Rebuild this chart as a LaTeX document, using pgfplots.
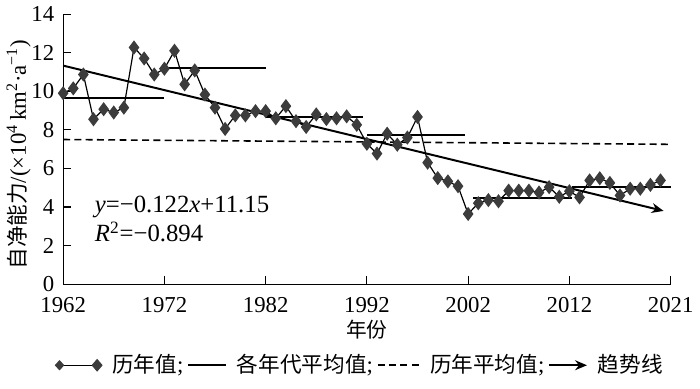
\documentclass[border=0pt]{standalone}
\usepackage{pgfplots}
\pgfplotsset{compat=1.18}
\usepackage{fontspec}
\setmainfont{Liberation Serif}
\newfontfamily\cjk[Scale=0.95]{Noto Sans CJK SC}
\usetikzlibrary{arrows.meta}
\definecolor{mkcol}{RGB}{60,60,60}
\begin{document}
\begin{tikzpicture}
\begin{axis}[
  scale only axis, width=307pt, height=136.5pt,
  xmin=1962, xmax=2022, ymin=0, ymax=14,
  axis x line*=bottom, axis y line*=left,
  tick align=inside,
  xtick={1962,1972,1982,1992,2002,2012,2022},
  xticklabels={1962,1972,1982,1992,2002,2012,2021},
  ytick={0,2,...,14},
  major tick length=4pt,
  tick style={black, line width=0.6pt},
  axis line style={line width=0.6pt},
  /pgf/number format/assume math mode=true,
  tick label style={font=\fontsize{11.5}{13}\selectfont},
  xticklabel style={yshift=-3pt},
  yticklabel style={xshift=-1pt},
  xlabel={\cjk 年份},
  xlabel style={at={(axis description cs:0.5,-0.168)}, anchor=center, font=\fontsize{11}{13}\selectfont},
  ylabel={{\cjk 自净能力}/(×10\textsuperscript{4}\,km\textsuperscript{2}·a\textsuperscript{−1})},
  ylabel style={at={(axis description cs:-0.0733,0.48)}, anchor=center, font=\fontsize{11.5}{13}\selectfont},
  unbounded coords=jump,
  clip=false,
  legend columns=4,
  legend style={at={(0.49,-0.3)}, anchor=center, draw=none, fill=none, inner sep=0pt,
    font=\fontsize{11.5}{13}\selectfont,
    /tikz/every even column/.append style={column sep=0pt},
    /tikz/every odd column/.append style={column sep=3pt}},
]
\addplot[black, line width=0.6pt, mark=diamond*, mark size=3.1pt,
  mark options={fill=mkcol, draw=mkcol},
  legend image code/.code={
    \draw[black, line width=0.7pt] (0pt,0pt) -- (19pt,0pt);
    \fill[mkcol] (0pt,0pt) +(-2pt,0pt) -- +(0pt,2.2pt) -- +(2pt,0pt) -- +(0pt,-2.2pt) -- cycle;
    \fill[mkcol] (19pt,0pt) +(-2.4pt,0pt) -- +(0pt,2.8pt) -- +(2.4pt,0pt) -- +(0pt,-2.8pt) -- cycle;
  }] coordinates {
(1962,9.9) (1963,10.15) (1964,10.87) (1965,8.55) (1966,9.07) (1967,8.9) (1968,9.15) (1969,12.27)
(1970,11.7) (1971,10.87) (1972,11.17) (1973,12.1) (1974,10.36) (1975,11.08) (1976,9.83) (1977,9.15)
(1978,8.05) (1979,8.75) (1980,8.75) (1981,8.97) (1982,8.97) (1983,8.6) (1984,9.23) (1985,8.45)
(1986,8.15) (1987,8.8) (1988,8.56) (1989,8.6) (1990,8.7) (1991,8.26) (1992,7.28) (1993,6.77)
(1994,7.8) (1995,7.23) (1996,7.6) (1997,8.67) (1998,6.3) (1999,5.5) (2000,5.33) (2001,5.08)
(2002,3.64) (2003,4.2) (2004,4.36) (2005,4.3) (2006,4.85) (2007,4.85) (2008,4.85) (2009,4.75)
(2010,5.03) (2011,4.53) (2012,4.82) (2013,4.5) (2014,5.38) (2015,5.49) (2016,5.25) (2017,4.6)
(2018,4.95) (2019,4.95) (2020,5.15) (2021,5.38)
};
\addlegendentry{{\cjk 历年值};}
\addplot[black, line width=1pt,
  legend image code/.code={\draw[black, line width=1pt] (0pt,0pt) -- (19pt,0pt);}] coordinates {
(1962,9.64) (1972,9.64) (1972,nan)
(1972,11.2) (1982,11.2) (1982,nan)
(1982,8.67) (1991.6,8.67) (1991.6,nan)
(1992,7.74) (2001.7,7.74) (2001.7,nan)
(2002.5,4.46) (2012.3,4.46) (2012.3,nan)
(2012.3,5.03) (2022,5.03)
};
\addlegendentry{{\cjk 各年代平均值};}
\addplot[black, line width=0.8pt, dash pattern=on 3.5pt off 2.2pt,
  legend image code/.code={\draw[black, line width=0.8pt, dash pattern=on 3.5pt off 2.2pt] (0pt,0pt) -- (21pt,0pt);}] coordinates {
(1962,7.5) (2022,7.25)
};
\addlegendentry{{\cjk 历年平均值};}
\addplot[black, line width=1pt, -{Stealth[length=6pt,width=5pt]},
  legend image code/.code={\draw[black, line width=1pt, -{Stealth[length=6pt,width=5pt]}] (0pt,0pt) -- (19pt,0pt);}] coordinates {
(1962,11.33) (2021.3,3.8)
};
\addlegendentry{\cjk 趋势线}
\node[anchor=west, inner sep=0pt, font=\fontsize{12.5}{14}\selectfont] at (axis cs:1965.1,4.0) {\textit{y}=−0.122\textit{x}+11.15};
\node[anchor=west, inner sep=0pt, font=\fontsize{12.5}{14}\selectfont] at (axis cs:1965.1,2.7) {\textit{R}\textsuperscript{2}=−0.894};
\end{axis}
\path ([shift={(-31.5pt,-52.5pt)}]current axis.south west) rectangle ([shift={(11.5pt,4pt)}]current axis.north east);
\end{tikzpicture}
\end{document}
